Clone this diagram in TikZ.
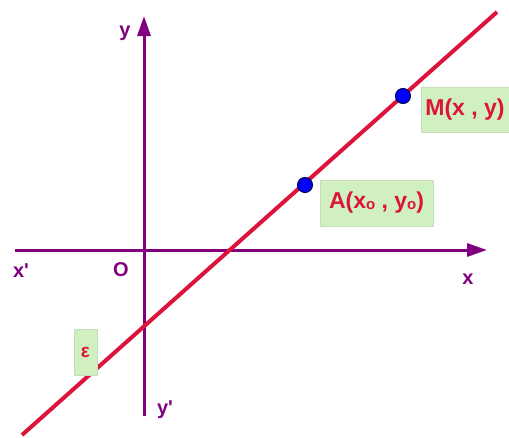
\documentclass[tikz,border=0pt]{standalone}
\usepackage{fontspec}
\setmainfont{Liberation Sans}
\usetikzlibrary{arrows.meta}
\definecolor{axc}{RGB}{128,0,128}
\definecolor{linec}{RGB}{220,20,60}
\definecolor{boxc}{RGB}{208,240,192}
\definecolor{boxb}{RGB}{200,220,190}
\definecolor{ptc}{RGB}{0,0,255}
\tikzset{
  axis/.style={draw=axc, line width=3pt, -{Triangle[length=20pt,width=13pt]}},
  axlab/.style={text=axc, font=\fontsize{20}{20}\selectfont\bfseries, inner sep=0pt},
  lab/.style={text=linec, fill=boxc, draw=boxb, line width=0.6pt, font=\fontsize{23}{23}\selectfont\bfseries, inner sep=0pt, anchor=center},
  pt/.style={circle, fill=ptc, draw=black!70!blue, line width=1pt, minimum size=15pt, inner sep=0pt}
}
\newcommand{\sbo}{\raisebox{-1pt}{\fontsize{15}{15}\selectfont o}}
\begin{document}
\begin{tikzpicture}[x=1pt,y=-1pt]
\useasboundingbox (0,0) rectangle (509,437);
\coordinate (xs) at (15,250);
\coordinate (xe) at (487,250);
\coordinate (ys) at (144,416);
\coordinate (ye) at (144,16);
\draw[axis] (xs) -- (xe);
\draw[axis] (ys) -- (ye);
\coordinate (ls) at (22,435);
\coordinate (le) at (497,12);
\draw[linec, line width=4pt] (ls) -- (le);
\node[pt] (A) at (305,185) {};
\node[pt] (M) at (403,96) {};
\node[lab, minimum width=113pt, minimum height=46pt] (Al) at (376.5,203) {A(x\sbo{} , y\sbo)};
\node[lab, minimum width=88pt, minimum height=45pt] (Ml) at (465,109.5) {M(x , y)};
\node[lab, minimum width=23pt, minimum height=46pt] (el) at (85.5,352) {\fontsize{19}{19}\selectfont ε};
\node[axlab] (yl) at (125,33) {y};
\node[axlab] (xl) at (468,279) {x};
\node[axlab] (xpl) at (21,271) {x\textquotesingle};
\node[axlab] (ol) at (121,270) {O};
\node[axlab] (ypl) at (165,410) {y\textquotesingle};
\end{tikzpicture}
\end{document}
